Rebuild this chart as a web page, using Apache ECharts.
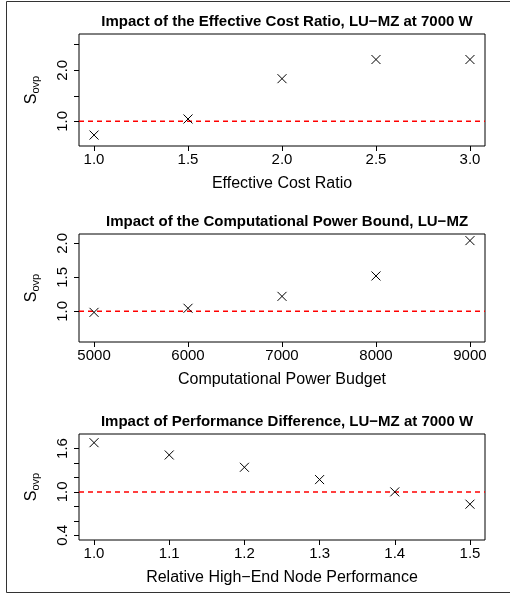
<!DOCTYPE html>
<html><head><meta charset="utf-8">
<script src="https://cdn.jsdelivr.net/npm/echarts@6/dist/echarts.min.js"></script>
<style>html,body{margin:0;padding:0;background:#fff}#c{width:510px;height:598px}</style>
</head><body><div id="c"></div>
<script>
// Panel 1: Effective Cost Ratio
const costRatio = [1.0, 1.5, 2.0, 2.5, 3.0];
const sCost = [0.73, 1.045, 1.835, 2.21, 2.21];
const costXTicks = [1.0, 1.5, 2.0, 2.5, 3.0];
const costYTicks = [1.0, 1.5, 2.0, 2.5];
const costYLabels = [1.0, 2.0];

// Panel 2: Computational Power Budget
const powerBudget = [5000, 6000, 7000, 8000, 9000];
const sPower = [0.985, 1.045, 1.22, 1.52, 2.04];
const powerXTicks = [5000, 6000, 7000, 8000, 9000];
const powerYTicks = [1.0, 1.5, 2.0];
const powerYLabels = [1.0, 1.5, 2.0];

// Panel 3: Relative High-End Node Performance
const perf = [1.0, 1.1, 1.2, 1.3, 1.4, 1.5];
const sPerf = [1.68, 1.51, 1.34, 1.17, 1.0, 0.83];
const perfXTicks = [1.0, 1.1, 1.2, 1.3, 1.4, 1.5];
const perfYTicks = [0.4, 0.6, 0.8, 1.0, 1.2, 1.4, 1.6];
const perfYLabels = [0.4, 1.0, 1.6];

const titles = [
  'Impact of the Effective Cost Ratio, LU\u2212MZ at 7000 W',
  'Impact of the Computational Power Bound, LU\u2212MZ',
  'Impact of Performance Difference, LU\u2212MZ at 7000 W'
];
const xNames = ['Effective Cost Ratio', 'Computational Power Budget', 'Relative High\u2212End Node Performance'];

const FONT = '"Liberation Sans", Arial, Helvetica, sans-serif';
const panels = [
  {x: costRatio, y: sCost, xr: [0.92, 3.08], yr: [0.516, 2.71], xt: costXTicks, yt: costYTicks, yl: costYLabels, xf: v => v.toFixed(1), top: 34, h: 112},
  {x: powerBudget, y: sPower, xr: [4840, 9160], yr: [0.549, 2.137], xt: powerXTicks, yt: powerYTicks, yl: powerYLabels, xf: v => String(Math.round(v)), top: 234, h: 108},
  {x: perf, y: sPerf, xr: [0.98, 1.52], yr: [0.335, 1.80], xt: perfXTicks, yt: perfYTicks, yl: perfYLabels, xf: v => v.toFixed(1), top: 434, h: 106}
];

const grid = [], xAxis = [], yAxis = [], series = [], title = [];
panels.forEach((p, i) => {
  grid.push({left: 79, width: 406, top: p.top, height: p.h, show: true, borderColor: '#000', borderWidth: 1, backgroundColor: 'transparent'});
  title.push({text: titles[i], left: 282, textAlign: 'center', top: p.top - 25,
    textStyle: {fontFamily: FONT, fontWeight: 'bold', fontSize: 15, color: '#000'}});
  xAxis.push({type: 'value', gridIndex: i, min: p.xr[0], max: p.xr[1],
    name: xNames[i], nameLocation: 'middle', nameGap: 30,
    nameTextStyle: {fontFamily: FONT, fontSize: 16, color: '#000'},
    axisLine: {show: false}, splitLine: {show: false},
    axisTick: {show: true, length: 5, inside: false, customValues: p.xt, lineStyle: {color: '#000'}},
    axisLabel: {show: true, customValues: p.xt, margin: 6, formatter: p.xf, fontFamily: FONT, fontSize: 15, color: '#000', showMinLabel: true, showMaxLabel: true}
  });
  yAxis.push({type: 'value', gridIndex: i, min: p.yr[0], max: p.yr[1],
    name: '{a|S}{b|ovp}', nameLocation: 'middle', nameGap: 38, nameRotate: 90,
    nameTextStyle: {rich: {
      a: {fontFamily: FONT, fontSize: 16, color: '#000'},
      b: {fontFamily: FONT, fontSize: 11, color: '#000', padding: [7, 0, 0, 0]}
    }},
    axisLine: {show: false}, splitLine: {show: false},
    axisTick: {show: true, length: 5, inside: false, customValues: p.yt, lineStyle: {color: '#000'}},
    axisLabel: {show: true, customValues: p.yl, rotate: 90, margin: 9, formatter: v => v.toFixed(1), fontFamily: FONT, fontSize: 15, color: '#000'}
  });
  series.push({type: 'line', xAxisIndex: i, yAxisIndex: i, data: [[p.xr[0], 1], [p.xr[1], 1]],
    symbol: 'none', silent: true, lineStyle: {color: '#ff0000', width: 1.5, type: [5, 4]}, z: 2});
  series.push({type: 'custom', xAxisIndex: i, yAxisIndex: i, z: 3,
    data: p.x.map((v, k) => [v, p.y[k]]),
    renderItem: (params, api) => {
      const c = api.coord([api.value(0), api.value(1)]);
      const s = 4.5;
      const st = {stroke: '#000', lineWidth: 1, fill: null};
      return {type: 'group', children: [
        {type: 'line', shape: {x1: c[0] - s, y1: c[1] - s, x2: c[0] + s, y2: c[1] + s}, style: st},
        {type: 'line', shape: {x1: c[0] - s, y1: c[1] + s, x2: c[0] + s, y2: c[1] - s}, style: st}
      ]};
    }
  });
});

const chart = echarts.init(document.getElementById('c'), null, {renderer: 'canvas'});
chart.setOption({
  animation: false,
  backgroundColor: '#fff',
  title, grid, xAxis, yAxis, series,
  graphic: [{type: 'rect', shape: {x: 6.5, y: 1.5, width: 520, height: 591}, style: {fill: null, stroke: '#333', lineWidth: 1}, silent: true}]
});
</script></body></html>
